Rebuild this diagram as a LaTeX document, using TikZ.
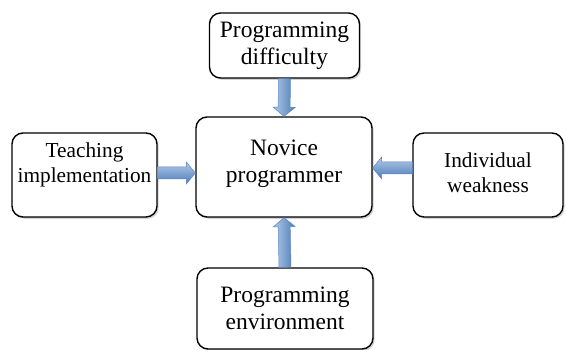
\documentclass[tikz,border=0pt]{standalone}
\usepackage{fontspec}
\setmainfont{Liberation Serif}
\usetikzlibrary{calc,shadows}

\definecolor{arrowlight}{HTML}{B4CAE6}
\definecolor{arrowdark}{HTML}{4A7CBA}
\definecolor{arrowedge}{HTML}{5B86C0}

\tikzset{
  box/.style={draw=black, line width=1.4pt, rounded corners=11pt, fill=white,
    align=center, inner sep=0pt,
    drop shadow={shadow xshift=1.6pt, shadow yshift=-1.8pt, fill=black!22, opacity=0.8}},
  bigtext/.style={font=\fontsize{23.5}{27}\selectfont},
  smalltext/.style={font=\fontsize{21.3}{25}\selectfont},
  arrowbody/.style={draw=arrowedge, line width=0.5pt, line join=miter}
}

% thick block arrow from #1 to #2; #3 = shading options
\newcommand\fatarrow[3]{%
  \coordinate (hb) at ($(#2)!9pt!(#1)$);
  \path[arrowbody, #3]
    ($(#1)!6pt!90:(#2)$) -- ($(hb)!6pt!-90:(#1)$) -- ($(hb)!11pt!-90:(#1)$)
    -- (#2)
    -- ($(hb)!11pt!90:(#1)$) -- ($(hb)!6pt!90:(#1)$) -- ($(#1)!6pt!-90:(#2)$) -- cycle;
}

\begin{document}
\begin{tikzpicture}[x=1pt, y=-1pt]
  \useasboundingbox (0,0) rectangle (566,350);

  \node[box, bigtext, minimum width=150pt, minimum height=65pt] (diff) at (284.5,45.5)
    {Programming\\difficulty};
  \node[box, minimum width=176pt, minimum height=100pt,
    label={[bigtext, align=center, yshift=3pt]center:Novice\\programmer}] (nov) at (284,167) {};
  \node[box, minimum width=145pt, minimum height=84pt,
    label={[smalltext, align=center, yshift=10pt]center:Teaching\\implementation}] (teach) at (84.5,175) {};
  \node[box, minimum width=150pt, minimum height=84pt,
    label={[smalltext, align=center, yshift=2pt]center:Individual\\weakness}] (indiv) at (488,175) {};
  \node[box, bigtext, minimum width=176pt, minimum height=81pt] (env) at (285,308.5)
    {Programming\\environment};

  \coordinate (a1) at (diff.south);
  \coordinate (b1) at (nov.north);
  \coordinate (a2) at (teach.east |- 0,173);
  \coordinate (b2) at (nov.west |- 0,173);
  \coordinate (a3) at (indiv.west |- 0,168);
  \coordinate (b3) at (nov.east |- 0,168);
  \coordinate (a4) at (env.north);
  \coordinate (b4) at (nov.south);

  \fatarrow{a1}{b1}{left color=arrowlight, right color=arrowdark}
  \fatarrow{a2}{b2}{top color=arrowlight, bottom color=arrowdark}
  \fatarrow{a3}{b3}{top color=arrowlight, bottom color=arrowdark}
  \fatarrow{a4}{b4}{left color=arrowlight, right color=arrowdark}
\end{tikzpicture}
\end{document}
